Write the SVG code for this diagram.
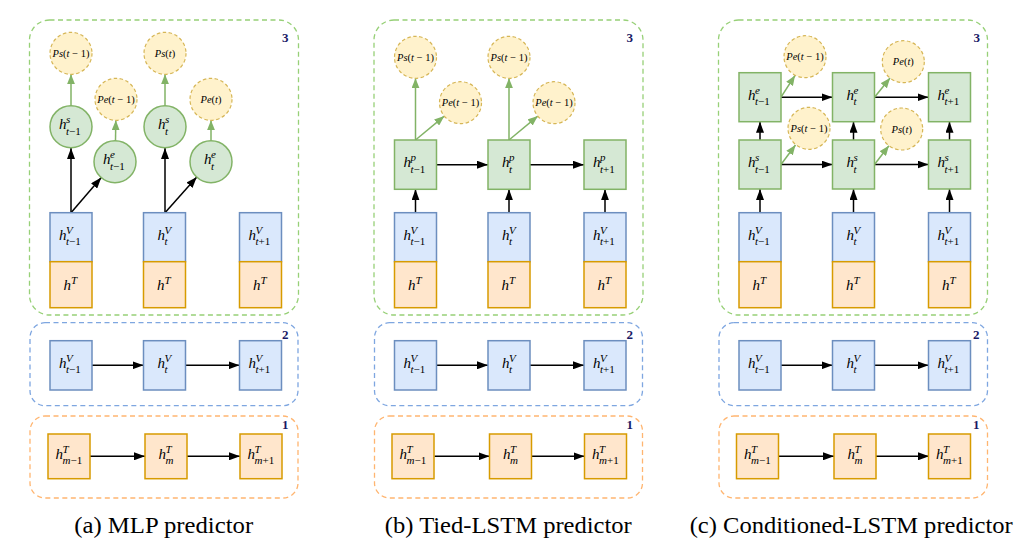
<svg xmlns="http://www.w3.org/2000/svg" width="1030" height="559" viewBox="0 0 1030 559">
<style>
.b3{fill:none;stroke:#97D077;stroke-width:1.3;stroke-dasharray:5 3.5}
.b2{fill:none;stroke:#7EA6E0;stroke-width:1.3;stroke-dasharray:5 3.5}
.b1{fill:none;stroke:#FFB570;stroke-width:1.3;stroke-dasharray:5 3.5}
.g{fill:#d5e8d4;stroke:#82b366;stroke-width:1.5}
.v{fill:#dae8fc;stroke:#6c8ebf;stroke-width:1.5}
.o{fill:#ffe6cc;stroke:#d79b00;stroke-width:1.5}
.p{fill:#fff2cc;stroke:#d6b656;stroke-width:1.2;stroke-dasharray:3.5 2.5}
text{font-family:"Liberation Serif","Times New Roman",Times,"DejaVu Serif",serif}
.n{font-size:13px;font-weight:bold;fill:#1a1a66}
.m{font-size:15px;font-style:italic;fill:#000}
.s{font-size:11px;font-style:italic;fill:#000}
.u{font-style:normal}
.pt{font-size:10.5px;fill:#000;text-anchor:middle}
.i{font-style:italic}
.c{font-size:22.5px;fill:#000;text-anchor:middle}
.a{stroke:#000;stroke-width:1.5;fill:none;marker-end:url(#ab)}
.ag{stroke:#82b366;stroke-width:1.5;fill:none;marker-end:url(#ag)}
</style>
<defs>
<marker id="ab" markerUnits="userSpaceOnUse" markerWidth="11" markerHeight="8" refX="11" refY="4" orient="auto"><path d="M0,0 L11,4 L0,8 z" fill="#000"/></marker>
<marker id="ag" markerUnits="userSpaceOnUse" markerWidth="10" markerHeight="8" refX="10" refY="4" orient="auto"><path d="M0,0 L10,4 L0,8 z" fill="#82b366"/></marker>
</defs>
<rect width="1030" height="559" fill="#fff"/>

<!-- ===== Panel (a) ===== -->
<g id="panel-a">
<g id="a-containers">
<rect class="b3" x="29.5" y="20" width="269" height="295" rx="20"/>
<text class="n" x="282" y="42">3</text>
<rect class="b2" x="30" y="322.7" width="268" height="83" rx="15"/>
<text class="n" x="282" y="339">2</text>
<rect class="b1" x="30" y="416" width="268" height="82" rx="15"/>
<text class="n" x="282" y="429">1</text>
</g>
<g id="a-connectors">
<line class="a" x1="71" y1="212.7" x2="71" y2="148"/>
<line class="a" x1="71" y1="212.7" x2="101.3" y2="177.6"/>
<line class="a" x1="165" y1="212.7" x2="165" y2="148"/>
<line class="a" x1="165" y1="212.7" x2="196.8" y2="177.1"/>
<line class="ag" x1="71" y1="105.7" x2="71" y2="74.3"/>
<line class="ag" x1="115.5" y1="140.7" x2="115.8" y2="120.3"/>
<line class="ag" x1="165" y1="105.7" x2="165" y2="74.3"/>
<line class="ag" x1="211" y1="140.7" x2="211" y2="120.3"/>
<line class="a" x1="92" y1="365.3" x2="143.5" y2="365.3"/>
<line class="a" x1="185.5" y1="365.3" x2="239.5" y2="365.3"/>
<line class="a" x1="90" y1="456.3" x2="145" y2="456.3"/>
<line class="a" x1="187" y1="456.3" x2="240" y2="456.3"/>
</g>
<g id="a-ps1"><circle class="p" cx="71" cy="53.3" r="21"/><text class="pt" x="71" y="56.8"><tspan class="i">Ps</tspan>(<tspan class="i">t</tspan> − 1)</text></g>
<g id="a-pe1"><circle class="p" cx="116" cy="99.3" r="21"/><text class="pt" x="116" y="102.8"><tspan class="i">Pe</tspan>(<tspan class="i">t</tspan> − 1)</text></g>
<g id="a-ps2"><circle class="p" cx="165" cy="53.3" r="21"/><text class="pt" x="165" y="56.8"><tspan class="i">Ps</tspan>(<tspan class="i">t</tspan>)</text></g>
<g id="a-pe2"><circle class="p" cx="211" cy="99.3" r="21"/><text class="pt" x="211" y="102.8"><tspan class="i">Pe</tspan>(<tspan class="i">t</tspan>)</text></g>
<g id="a-hs1"><circle class="g" cx="71" cy="126.7" r="21"/><text class="m" x="59" y="129.2">h</text><text class="s" x="66" y="123.2">s</text><text class="s" x="66" y="134.7">t<tspan class="u">−1</tspan></text></g>
<g id="a-he1"><circle class="g" cx="115" cy="161.7" r="21"/><text class="m" x="103" y="164.2">h</text><text class="s" x="110" y="158.2">e</text><text class="s" x="110" y="169.7">t<tspan class="u">−1</tspan></text></g>
<g id="a-hs2"><circle class="g" cx="165" cy="126.7" r="21"/><text class="m" x="158" y="129.2">h</text><text class="s" x="165" y="123.2">s</text><text class="s" x="165" y="134.7">t</text></g>
<g id="a-he2"><circle class="g" cx="211" cy="161.7" r="21"/><text class="m" x="204" y="164.2">h</text><text class="s" x="211" y="158.2">e</text><text class="s" x="211" y="169.7">t</text></g>
<g id="a-hv1"><rect class="v" x="50" y="212.7" width="42" height="49"/><text class="m" x="59" y="239.7">h</text><text class="s" x="66" y="233.7">V</text><text class="s" x="66" y="245.2">t<tspan class="u">−1</tspan></text></g>
<g id="a-hv2"><rect class="v" x="143.5" y="212.7" width="42" height="49"/><text class="m" x="157.5" y="239.7">h</text><text class="s" x="164.5" y="233.7">V</text><text class="s" x="164.5" y="245.2">t</text></g>
<g id="a-hv3"><rect class="v" x="239.5" y="212.7" width="42" height="49"/><text class="m" x="248.5" y="239.7">h</text><text class="s" x="255.5" y="233.7">V</text><text class="s" x="255.5" y="245.2">t<tspan class="u">+1</tspan></text></g>
<g id="a-hT1"><rect class="o" x="50" y="261.7" width="42" height="46"/><text class="m" x="63.5" y="289.7">h</text><text class="s" x="71" y="283.7">T</text></g>
<g id="a-hT2"><rect class="o" x="143.5" y="261.7" width="42" height="46"/><text class="m" x="157" y="289.7">h</text><text class="s" x="164.5" y="283.7">T</text></g>
<g id="a-hT3"><rect class="o" x="239.5" y="261.7" width="42" height="46"/><text class="m" x="253" y="289.7">h</text><text class="s" x="260.5" y="283.7">T</text></g>
<g id="a-v1"><rect class="v" x="50" y="340.7" width="42" height="49.3"/><text class="m" x="59" y="367.8">h</text><text class="s" x="66" y="361.8">V</text><text class="s" x="66" y="373.3">t<tspan class="u">−1</tspan></text></g>
<g id="a-v2"><rect class="v" x="143.5" y="340.7" width="42" height="49.3"/><text class="m" x="157.5" y="367.8">h</text><text class="s" x="164.5" y="361.8">V</text><text class="s" x="164.5" y="373.3">t</text></g>
<g id="a-v3"><rect class="v" x="239.5" y="340.7" width="42" height="49.3"/><text class="m" x="248.5" y="367.8">h</text><text class="s" x="255.5" y="361.8">V</text><text class="s" x="255.5" y="373.3">t<tspan class="u">+1</tspan></text></g>
<g id="a-t1"><rect class="o" x="48" y="434" width="42" height="44.7"/><text class="m" x="55.5" y="458.8">h</text><text class="s" x="62.5" y="452.8">T</text><text class="s" x="62.5" y="464.3">m<tspan class="u">−1</tspan></text></g>
<g id="a-t2"><rect class="o" x="145" y="434" width="42" height="44.7"/><text class="m" x="158.5" y="458.8">h</text><text class="s" x="165.5" y="452.8">T</text><text class="s" x="165.5" y="464.3">m</text></g>
<g id="a-t3"><rect class="o" x="240" y="434" width="42" height="44.7"/><text class="m" x="247.5" y="458.8">h</text><text class="s" x="254.5" y="452.8">T</text><text class="s" x="254.5" y="464.3">m<tspan class="u">+1</tspan></text></g>
<text class="c" x="163.7" y="533" textLength="179" lengthAdjust="spacingAndGlyphs">(a) MLP predictor</text>
</g>

<!-- ===== Panel (b) ===== -->
<g id="panel-b" transform="translate(344.5,0)">
<g id="b-containers">
<rect class="b3" x="29.5" y="20" width="269" height="295" rx="20"/>
<text class="n" x="282" y="42">3</text>
<rect class="b2" x="30" y="322.7" width="268" height="83" rx="15"/>
<text class="n" x="282" y="339">2</text>
<rect class="b1" x="30" y="416" width="268" height="82" rx="15"/>
<text class="n" x="282" y="429">1</text>
</g>
<g id="b-connectors">
<line class="a" x1="71" y1="212.7" x2="71" y2="189.3"/>
<line class="a" x1="164.5" y1="212.7" x2="164.5" y2="189.3"/>
<line class="a" x1="260.5" y1="212.7" x2="260.5" y2="189.3"/>
<line class="a" x1="92" y1="164.7" x2="143.5" y2="164.7"/>
<line class="a" x1="185.5" y1="164.7" x2="239.5" y2="164.7"/>
<line class="ag" x1="71" y1="140" x2="71" y2="78.3"/>
<line class="ag" x1="71" y1="140" x2="99.8" y2="116.1"/>
<line class="ag" x1="164.5" y1="140" x2="164.5" y2="78.3"/>
<line class="ag" x1="164.5" y1="140" x2="193.3" y2="116.1"/>
<line class="a" x1="92" y1="365.3" x2="143.5" y2="365.3"/>
<line class="a" x1="185.5" y1="365.3" x2="239.5" y2="365.3"/>
<line class="a" x1="90" y1="456.3" x2="145" y2="456.3"/>
<line class="a" x1="187" y1="456.3" x2="240" y2="456.3"/>
</g>
<g id="b-ps1"><circle class="p" cx="71" cy="57.3" r="21"/><text class="pt" x="71" y="60.8"><tspan class="i">Ps</tspan>(<tspan class="i">t</tspan> − 1)</text></g>
<g id="b-pe1"><circle class="p" cx="116" cy="102.7" r="21"/><text class="pt" x="116" y="106.2"><tspan class="i">Pe</tspan>(<tspan class="i">t</tspan> − 1)</text></g>
<g id="b-ps2"><circle class="p" cx="164.5" cy="57.3" r="21"/><text class="pt" x="164.5" y="60.8"><tspan class="i">Ps</tspan>(<tspan class="i">t</tspan> − 1)</text></g>
<g id="b-pe2"><circle class="p" cx="209.5" cy="102.7" r="21"/><text class="pt" x="209.5" y="106.2"><tspan class="i">Pe</tspan>(<tspan class="i">t</tspan> − 1)</text></g>
<g id="b-hp1"><rect class="g" x="50" y="140" width="42" height="49.3"/><text class="m" x="59" y="167.2">h</text><text class="s" x="66" y="161.2">p</text><text class="s" x="66" y="172.7">t<tspan class="u">−1</tspan></text></g>
<g id="b-hp2"><rect class="g" x="143.5" y="140" width="42" height="49.3"/><text class="m" x="157.5" y="167.2">h</text><text class="s" x="164.5" y="161.2">p</text><text class="s" x="164.5" y="172.7">t</text></g>
<g id="b-hp3"><rect class="g" x="239.5" y="140" width="42" height="49.3"/><text class="m" x="248.5" y="167.2">h</text><text class="s" x="255.5" y="161.2">p</text><text class="s" x="255.5" y="172.7">t<tspan class="u">+1</tspan></text></g>
<g id="b-hv1"><rect class="v" x="50" y="212.7" width="42" height="49"/><text class="m" x="59" y="239.7">h</text><text class="s" x="66" y="233.7">V</text><text class="s" x="66" y="245.2">t<tspan class="u">−1</tspan></text></g>
<g id="b-hv2"><rect class="v" x="143.5" y="212.7" width="42" height="49"/><text class="m" x="157.5" y="239.7">h</text><text class="s" x="164.5" y="233.7">V</text><text class="s" x="164.5" y="245.2">t</text></g>
<g id="b-hv3"><rect class="v" x="239.5" y="212.7" width="42" height="49"/><text class="m" x="248.5" y="239.7">h</text><text class="s" x="255.5" y="233.7">V</text><text class="s" x="255.5" y="245.2">t<tspan class="u">+1</tspan></text></g>
<g id="b-hT1"><rect class="o" x="50" y="261.7" width="42" height="46"/><text class="m" x="63.5" y="289.7">h</text><text class="s" x="71" y="283.7">T</text></g>
<g id="b-hT2"><rect class="o" x="143.5" y="261.7" width="42" height="46"/><text class="m" x="157" y="289.7">h</text><text class="s" x="164.5" y="283.7">T</text></g>
<g id="b-hT3"><rect class="o" x="239.5" y="261.7" width="42" height="46"/><text class="m" x="253" y="289.7">h</text><text class="s" x="260.5" y="283.7">T</text></g>
<g id="b-v1"><rect class="v" x="50" y="340.7" width="42" height="49.3"/><text class="m" x="59" y="367.8">h</text><text class="s" x="66" y="361.8">V</text><text class="s" x="66" y="373.3">t<tspan class="u">−1</tspan></text></g>
<g id="b-v2"><rect class="v" x="143.5" y="340.7" width="42" height="49.3"/><text class="m" x="157.5" y="367.8">h</text><text class="s" x="164.5" y="361.8">V</text><text class="s" x="164.5" y="373.3">t</text></g>
<g id="b-v3"><rect class="v" x="239.5" y="340.7" width="42" height="49.3"/><text class="m" x="248.5" y="367.8">h</text><text class="s" x="255.5" y="361.8">V</text><text class="s" x="255.5" y="373.3">t<tspan class="u">+1</tspan></text></g>
<g id="b-t1"><rect class="o" x="47.5" y="434" width="42" height="44.7"/><text class="m" x="55" y="458.8">h</text><text class="s" x="62" y="452.8">T</text><text class="s" x="62" y="464.3">m<tspan class="u">−1</tspan></text></g>
<g id="b-t2"><rect class="o" x="145" y="434" width="42" height="44.7"/><text class="m" x="158.5" y="458.8">h</text><text class="s" x="165.5" y="452.8">T</text><text class="s" x="165.5" y="464.3">m</text></g>
<g id="b-t3"><rect class="o" x="240" y="434" width="42" height="44.7"/><text class="m" x="247.5" y="458.8">h</text><text class="s" x="254.5" y="452.8">T</text><text class="s" x="254.5" y="464.3">m<tspan class="u">+1</tspan></text></g>
<text class="c" x="163.8" y="533" textLength="247" lengthAdjust="spacingAndGlyphs">(b) Tied-LSTM predictor</text>
</g>

<!-- ===== Panel (c) ===== -->
<g id="panel-c" transform="translate(689,0)">
<g id="c-containers">
<rect class="b3" x="29.5" y="20" width="269" height="295" rx="20"/>
<text class="n" x="284.5" y="42">3</text>
<rect class="b2" x="30" y="322.7" width="268.5" height="83" rx="15"/>
<text class="n" x="284" y="339">2</text>
<rect class="b1" x="30" y="416" width="268.5" height="82" rx="15"/>
<text class="n" x="284" y="429">1</text>
</g>
<g id="c-connectors">
<line class="a" x1="71" y1="212.7" x2="71" y2="189"/>
<line class="a" x1="164.5" y1="212.7" x2="164.5" y2="189"/>
<line class="a" x1="260.5" y1="212.7" x2="260.5" y2="189"/>
<line class="a" x1="71" y1="140" x2="71" y2="121.7"/>
<line class="a" x1="164.5" y1="140" x2="164.5" y2="121.7"/>
<line class="a" x1="260.5" y1="140" x2="260.5" y2="121.7"/>
<line class="a" x1="92" y1="97.2" x2="143.5" y2="97.2"/>
<line class="a" x1="185.5" y1="97.2" x2="239.5" y2="97.2"/>
<line class="a" x1="92" y1="164.5" x2="143.5" y2="164.5"/>
<line class="a" x1="185.5" y1="164.5" x2="239.5" y2="164.5"/>
<line class="ag" x1="92" y1="97.2" x2="106" y2="75.5"/>
<line class="ag" x1="92" y1="164.5" x2="106.5" y2="145"/>
<line class="ag" x1="185.5" y1="97.2" x2="201.1" y2="78"/>
<line class="ag" x1="185.5" y1="164.5" x2="199.9" y2="145.7"/>
<line class="a" x1="92" y1="365.3" x2="143.5" y2="365.3"/>
<line class="a" x1="185.5" y1="365.3" x2="239.5" y2="365.3"/>
<line class="a" x1="90" y1="456.3" x2="145" y2="456.3"/>
<line class="a" x1="187" y1="456.3" x2="240" y2="456.3"/>
</g>
<g id="c-pe1"><circle class="p" cx="116" cy="56.7" r="21"/><text class="pt" x="116" y="60.2"><tspan class="i">Pe</tspan>(<tspan class="i">t</tspan> − 1)</text></g>
<g id="c-ps1"><circle class="p" cx="120" cy="128.3" r="21"/><text class="pt" x="120" y="131.8"><tspan class="i">Ps</tspan>(<tspan class="i">t</tspan> − 1)</text></g>
<g id="c-pe2"><circle class="p" cx="214.3" cy="61.7" r="21"/><text class="pt" x="214.3" y="65.2"><tspan class="i">Pe</tspan>(<tspan class="i">t</tspan>)</text></g>
<g id="c-ps2"><circle class="p" cx="212.7" cy="129" r="21"/><text class="pt" x="212.7" y="132.5"><tspan class="i">Ps</tspan>(<tspan class="i">t</tspan>)</text></g>
<g id="c-he1"><rect class="g" x="50" y="72.7" width="42" height="49"/><text class="m" x="59" y="99.7">h</text><text class="s" x="66" y="93.7">e</text><text class="s" x="66" y="105.2">t<tspan class="u">−1</tspan></text></g>
<g id="c-he2"><rect class="g" x="143.5" y="72.7" width="42" height="49"/><text class="m" x="157.5" y="99.7">h</text><text class="s" x="164.5" y="93.7">e</text><text class="s" x="164.5" y="105.2">t</text></g>
<g id="c-he3"><rect class="g" x="239.5" y="72.7" width="42" height="49"/><text class="m" x="248.5" y="99.7">h</text><text class="s" x="255.5" y="93.7">e</text><text class="s" x="255.5" y="105.2">t<tspan class="u">+1</tspan></text></g>
<g id="c-hs1"><rect class="g" x="50" y="140" width="42" height="49"/><text class="m" x="59" y="167">h</text><text class="s" x="66" y="161">s</text><text class="s" x="66" y="172.5">t<tspan class="u">−1</tspan></text></g>
<g id="c-hs2"><rect class="g" x="143.5" y="140" width="42" height="49"/><text class="m" x="157.5" y="167">h</text><text class="s" x="164.5" y="161">s</text><text class="s" x="164.5" y="172.5">t</text></g>
<g id="c-hs3"><rect class="g" x="239.5" y="140" width="42" height="49"/><text class="m" x="248.5" y="167">h</text><text class="s" x="255.5" y="161">s</text><text class="s" x="255.5" y="172.5">t<tspan class="u">+1</tspan></text></g>
<g id="c-hv1"><rect class="v" x="50" y="212.7" width="42" height="49"/><text class="m" x="59" y="239.7">h</text><text class="s" x="66" y="233.7">V</text><text class="s" x="66" y="245.2">t<tspan class="u">−1</tspan></text></g>
<g id="c-hv2"><rect class="v" x="143.5" y="212.7" width="42" height="49"/><text class="m" x="157.5" y="239.7">h</text><text class="s" x="164.5" y="233.7">V</text><text class="s" x="164.5" y="245.2">t</text></g>
<g id="c-hv3"><rect class="v" x="239.5" y="212.7" width="42" height="49"/><text class="m" x="248.5" y="239.7">h</text><text class="s" x="255.5" y="233.7">V</text><text class="s" x="255.5" y="245.2">t<tspan class="u">+1</tspan></text></g>
<g id="c-hT1"><rect class="o" x="50" y="261.7" width="42" height="46"/><text class="m" x="63.5" y="289.7">h</text><text class="s" x="71" y="283.7">T</text></g>
<g id="c-hT2"><rect class="o" x="143.5" y="261.7" width="42" height="46"/><text class="m" x="157" y="289.7">h</text><text class="s" x="164.5" y="283.7">T</text></g>
<g id="c-hT3"><rect class="o" x="239.5" y="261.7" width="42" height="46"/><text class="m" x="253" y="289.7">h</text><text class="s" x="260.5" y="283.7">T</text></g>
<g id="c-v1"><rect class="v" x="50" y="340.7" width="42" height="49.3"/><text class="m" x="59" y="367.8">h</text><text class="s" x="66" y="361.8">V</text><text class="s" x="66" y="373.3">t<tspan class="u">−1</tspan></text></g>
<g id="c-v2"><rect class="v" x="143.5" y="340.7" width="42" height="49.3"/><text class="m" x="157.5" y="367.8">h</text><text class="s" x="164.5" y="361.8">V</text><text class="s" x="164.5" y="373.3">t</text></g>
<g id="c-v3"><rect class="v" x="239.5" y="340.7" width="42" height="49.3"/><text class="m" x="248.5" y="367.8">h</text><text class="s" x="255.5" y="361.8">V</text><text class="s" x="255.5" y="373.3">t<tspan class="u">+1</tspan></text></g>
<g id="c-t1"><rect class="o" x="47.5" y="434" width="42" height="44.7"/><text class="m" x="55" y="458.8">h</text><text class="s" x="62" y="452.8">T</text><text class="s" x="62" y="464.3">m<tspan class="u">−1</tspan></text></g>
<g id="c-t2"><rect class="o" x="145" y="434" width="42" height="44.7"/><text class="m" x="158.5" y="458.8">h</text><text class="s" x="165.5" y="452.8">T</text><text class="s" x="165.5" y="464.3">m</text></g>
<g id="c-t3"><rect class="o" x="239.5" y="434" width="42" height="44.7"/><text class="m" x="247" y="458.8">h</text><text class="s" x="254" y="452.8">T</text><text class="s" x="254" y="464.3">m<tspan class="u">+1</tspan></text></g>
<text class="c" x="162.2" y="533" textLength="323" lengthAdjust="spacingAndGlyphs">(c) Conditioned-LSTM predictor</text>
</g>
</svg>
